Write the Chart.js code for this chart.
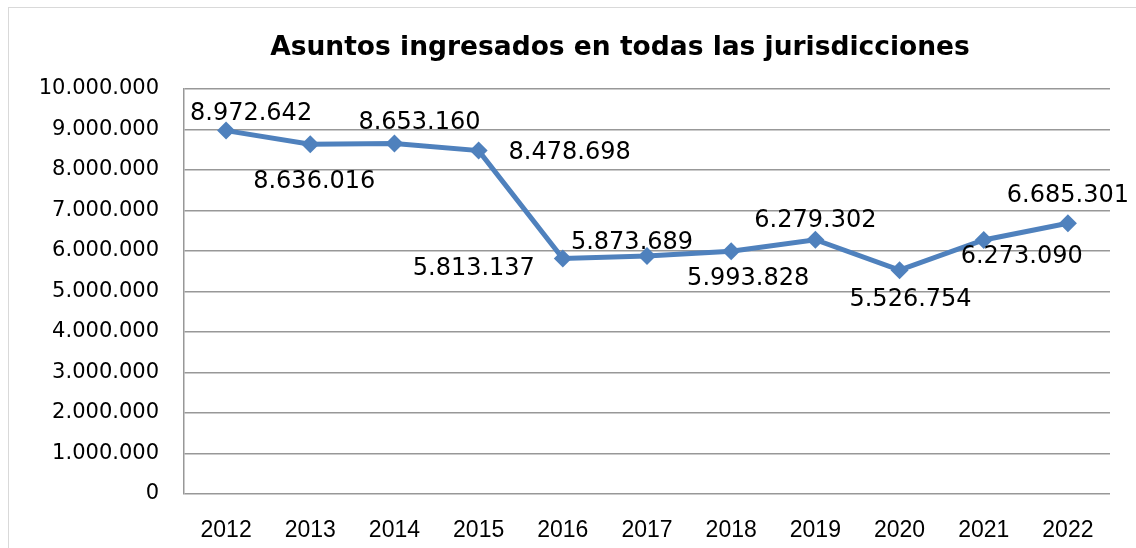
<!DOCTYPE html>
<html>
<head>
<meta charset="utf-8">
<script src="https://cdn.jsdelivr.net/npm/chart.js@4/dist/chart.umd.min.js"></script>
<style>
  html, body { margin: 0; padding: 0; background: #fff; }
  #wrap { position: relative; width: 1136px; height: 548px; overflow: hidden; }
  #frame { position: absolute; left: 8px; top: 7px; width: 1140px; height: 560px; border: 1px solid #d9d9d9; box-sizing: border-box; }
  canvas { position: absolute; left: 0; top: 0; }
</style>
</head>
<body>
<div id="wrap">
  <div id="frame"></div>
  <canvas id="c" width="1136" height="548"></canvas>
</div>
<script>
const titleText = 'Asuntos ingresados en todas las jurisdicciones';
const years = ['2012','2013','2014','2015','2016','2017','2018','2019','2020','2021','2022'];
const asuntos = [8972642, 8636016, 8653160, 8478698, 5813137, 5873689, 5993828, 6279302, 5526754, 6273090, 6685301];
const yMin = 0, yMax = 10000000, yStep = 1000000;

// label offsets (pixels) relative to each point, as placed in the original
const labelDX = [25, 4, 25, 91, -89, -15, 17, 0, 11, 38, 0];
const labelDY = [-17, 38, -21, 2, 10, -13, 28, -19, 30, 17, -27];

function fmt(v) {
  return String(Math.round(v)).replace(/\B(?=(\d{3})+(?!\d))/g, '.');
}

const labelPlugin = {
  id: 'pointLabels',
  afterDatasetsDraw(chart) {
    const ctx = chart.ctx;
    const meta = chart.getDatasetMeta(0);
    ctx.save();
    ctx.font = '24px "DejaVu Sans"';
    ctx.fillStyle = '#000';
    ctx.textAlign = 'center';
    ctx.textBaseline = 'middle';
    meta.data.forEach((pt, i) => {
      ctx.fillText(fmt(asuntos[i]), pt.x + labelDX[i], pt.y + labelDY[i]);
    });
    ctx.restore();
  }
};

// chart title, placed like the original (Excel-style, offset to the right)
const titlePlugin = {
  id: 'offsetTitle',
  afterDraw(chart) {
    const ctx = chart.ctx;
    const a = chart.chartArea;
    ctx.save();
    ctx.font = 'bold 26.5px "DejaVu Sans"';
    ctx.fillStyle = '#000';
    ctx.textAlign = 'center';
    ctx.textBaseline = 'middle';
    ctx.fillText(titleText, chart.width / 2 + 52, a.top - 41);
    ctx.restore();
  }
};

new Chart(document.getElementById('c'), {
  type: 'line',
  data: {
    labels: years,
    datasets: [{
      data: asuntos,
      borderColor: '#4F81BD',
      backgroundColor: '#4F81BD',
      borderWidth: 5,
      pointStyle: 'rectRot',
      pointRadius: 9,
      pointHoverRadius: 9,
      pointBorderWidth: 0,
      tension: 0
    }]
  },
  options: {
    responsive: false,
    animation: false,
    layout: { padding: { left: 0, right: 26, top: 89, bottom: 0 } },
    plugins: {
      legend: { display: false },
      tooltip: { enabled: false },
      title: { display: false }
    },
    scales: {
      x: {
        offset: true,
        grid: { display: false, drawTicks: false },
        border: { display: false },
        ticks: {
          color: '#000',
          font: { family: '"Liberation Sans"', size: 23 },
          padding: 23,
          maxRotation: 0
        },
        afterFit(s) { s.height = 54; }
      },
      y: {
        min: yMin,
        max: yMax,
        ticks: {
          stepSize: yStep,
          color: '#000',
          font: { family: '"DejaVu Sans"', size: 21 },
          padding: 25,
          callback: v => fmt(v)
        },
        grid: { color: '#989898', lineWidth: 1.5, drawTicks: false },
        border: { display: true, color: '#989898', width: 1.5 },
        afterFit(s) { s.width = 184; }
      }
    }
  },
  plugins: [labelPlugin, titlePlugin]
});
</script>
</body>
</html>
